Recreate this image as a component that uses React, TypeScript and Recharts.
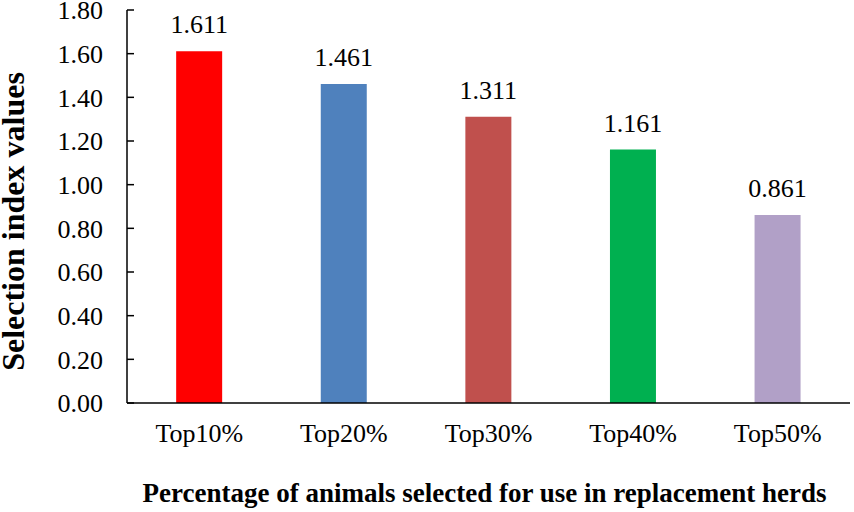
import { Bar, BarChart, Cell, LabelList, XAxis, YAxis } from "recharts";

const categories = ["Top10%", "Top20%", "Top30%", "Top40%", "Top50%"];
const indexValues = [1.611, 1.461, 1.311, 1.161, 0.861];
const barColors = ["#FF0000", "#4F81BD", "#C0504D", "#00B050", "#B1A0C7"];
const yTicks = [0, 0.2, 0.4, 0.6, 0.8, 1.0, 1.2, 1.4, 1.6, 1.8];

const xTitle = "Percentage of animals selected for use in replacement herds";
const yTitle = "Selection index values";

const data = categories.map((name, i) => ({ name, value: indexValues[i] }));

const font = "Liberation Serif, DejaVu Serif";

// rotated y title, drawn beside the plot area
const YTitle = ({ viewBox }: any) => {
  const cx = 24;
  const cy = viewBox.y + viewBox.height / 2 + 15;
  return (
    <text
      x={cx}
      y={cy}
      transform={`rotate(-90 ${cx} ${cy})`}
      textAnchor="middle"
      fill="#000"
      fontSize={32}
      fontWeight="bold"
      style={{ fontFamily: font }}
    >
      {yTitle}
    </text>
  );
};

export default function App() {
  return (
    <div
      style={{
        position: "absolute",
        left: 0,
        top: 0,
        width: 854,
        height: 512,
        background: "#fff",
        fontFamily: font
      }}
    >
      <BarChart
        width={854}
        height={512}
        data={data}
        margin={{ top: 10, right: 4, bottom: 0, left: 0 }}
        barCategoryGap="34%"
        style={{ fontFamily: font }}
      >
        <XAxis
          dataKey="name"
          height={109}
          tickLine={false}
          tickSize={0}
          tickMargin={21}
          axisLine={{ stroke: "#000", strokeWidth: 1.5 }}
          tick={{ fill: "#000", fontSize: 26, style: { fontFamily: font } }}
          label={{
            value: xTitle,
            position: "insideBottom",
            offset: 10,
            dx: -4,
            fill: "#000",
            fontSize: 27,
            fontWeight: "bold",
            style: { fontFamily: font }
          }}
        />
        <YAxis
          width={127}
          domain={[0, 1.8]}
          ticks={yTicks}
          interval={0}
          tickFormatter={(v: number) => v.toFixed(2)}
          tickSize={-7}
          tickMargin={31}
          axisLine={{ stroke: "#000", strokeWidth: 1.5 }}
          tickLine={{ stroke: "#000", strokeWidth: 1.5 }}
          tick={{ fill: "#000", fontSize: 26, style: { fontFamily: font } }}
          label={<YTitle />}
        />
        <Bar dataKey="value" isAnimationActive={false}>
          {data.map((d, i) => (
            <Cell key={d.name} fill={barColors[i]} />
          ))}
          <LabelList
            dataKey="value"
            position="top"
            offset={18}
            formatter={(v: number) => v.toFixed(3)}
            style={{ fill: "#000", fontSize: 26, fontFamily: font }}
          />
        </Bar>
      </BarChart>
    </div>
  );
}
